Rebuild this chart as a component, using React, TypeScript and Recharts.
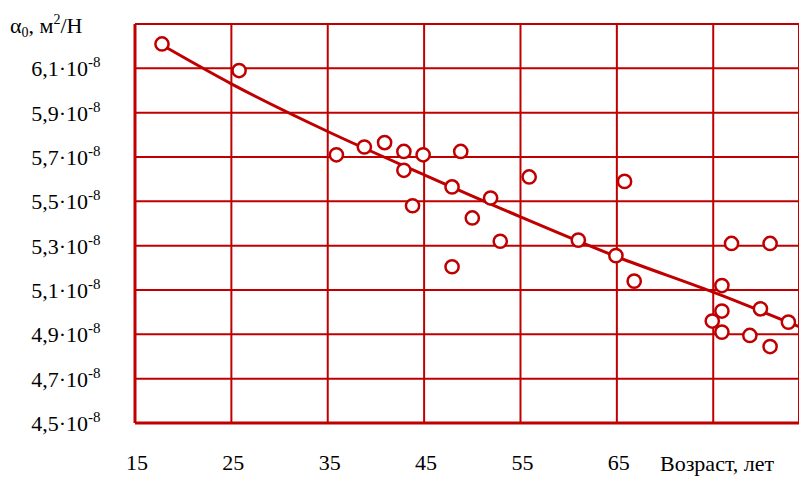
import { ComposedChart, Scatter, Line, XAxis, YAxis, CartesianGrid } from 'recharts';

const RED = '#C00000';
const TXT = { fontFamily: "'Liberation Serif', serif", fill: '#000' };

// measured points: age (years) and alpha0 (x1e-8 m2/N)
const ages = [17.8, 25.8, 35.9, 38.8, 40.9, 42.9, 44.9, 42.9, 43.8, 47.9, 48.8, 51.9, 50.0, 52.9, 47.9, 55.9, 61.0, 64.9, 65.8, 66.8, 76.9, 80.9, 75.9, 75.9, 74.9, 75.9, 78.8, 79.9, 80.9, 82.8];
const alphas = [6.21, 6.09, 5.71, 5.745, 5.765, 5.725, 5.71, 5.64, 5.48, 5.565, 5.725, 5.515, 5.425, 5.32, 5.205, 5.61, 5.325, 5.255, 5.59, 5.14, 5.31, 5.31, 5.12, 5.005, 4.96, 4.91, 4.895, 5.015, 4.845, 4.955];

// fitted trend
const trendAges = [17.8, 25, 35, 45, 55, 65, 75, 83.9];
const trendValues = [6.205, 6.03, 5.815, 5.62, 5.43, 5.25, 5.09, 4.935];

const xTicks = [15, 25, 35, 45, 55, 65, 75];
const yTicks = [4.5, 4.7, 4.9, 5.1, 5.3, 5.5, 5.7, 5.9, 6.1, 6.3];

const points = ages.map((a, i) => ({ age: a, v: alphas[i] }));
const trend = trendAges.map((a, i) => ({ age: a, v: trendValues[i] }));

function YTick({ y, payload }: any) {
  if (payload.value === 6.3) {
    return (
      <text x={10} y={33} fontSize={22} style={TXT}>
        α<tspan fontSize={14} dy={4}>0</tspan>
        <tspan dy={-4}>, м</tspan>
        <tspan fontSize={14} dy={-9}>2</tspan>
        <tspan dy={9}>/Н</tspan>
      </text>
    );
  }
  const label = payload.value.toFixed(1).replace('.', ',') + '·10';
  return (
    <g>
      <text x={88} y={y + 8} textAnchor="end" fontSize={22} style={TXT}>
        {label}
      </text>
      <text x={88} y={y - 1} fontSize={15} style={TXT}>
        -8
      </text>
    </g>
  );
}

function XTick({ x, payload }: any) {
  if (payload.value === 75) {
    return (
      <text x={660} y={471} fontSize={22} style={TXT}>
        Возраст, лет
      </text>
    );
  }
  return (
    <text x={x + 2} y={470} textAnchor="middle" fontSize={22} style={TXT}>
      {payload.value}
    </text>
  );
}

const Ring = (props: any) => (
  <circle cx={props.cx} cy={props.cy} r={6.6} fill="#fff" stroke={RED} strokeWidth={2.5} />
);

export default function App() {
  return (
    <div style={{ position: 'absolute', left: 0, top: 0, background: '#fff' }}>
      <ComposedChart width={799} height={477} margin={{ top: 24, right: 0, left: 0, bottom: 0 }}>
        <CartesianGrid stroke={RED} strokeWidth={2} />
        <XAxis
          type="number"
          dataKey="age"
          domain={[15, 83.9]}
          ticks={xTicks}
          interval={0}
          allowDataOverflow
          height={54}
          tickLine={false}
          axisLine={{ stroke: RED, strokeWidth: 3 }}
          tick={<XTick />}
        />
        <YAxis
          type="number"
          dataKey="v"
          domain={[4.5, 6.3]}
          ticks={yTicks}
          interval={0}
          allowDataOverflow
          width={135}
          tickLine={false}
          axisLine={{ stroke: RED, strokeWidth: 3 }}
          tick={<YTick />}
        />
        <Line
          data={trend}
          dataKey="v"
          type="monotone"
          stroke={RED}
          strokeWidth={3}
          dot={false}
          activeDot={false}
          isAnimationActive={false}
        />
        <Scatter data={points} dataKey="v" shape={<Ring />} isAnimationActive={false} />
      </ComposedChart>
    </div>
  );
}
